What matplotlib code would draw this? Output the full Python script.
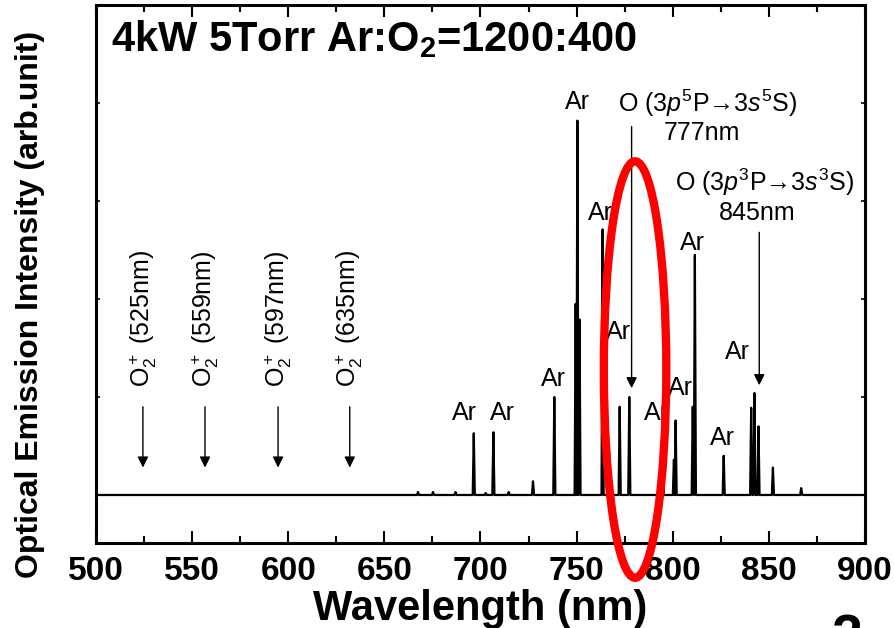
import numpy as np
import matplotlib.pyplot as plt
from matplotlib.patches import Ellipse

plt.rcParams['font.family'] = ['Liberation Sans', 'DejaVu Sans']
plt.rcParams['mathtext.fontset'] = 'custom'
plt.rcParams['mathtext.rm'] = 'Liberation Sans'
plt.rcParams['mathtext.it'] = 'Liberation Sans:italic'
plt.rcParams['mathtext.bf'] = 'Liberation Sans:bold'

# emission lines (wavelength nm, intensity arb. units)
peak_nm = [667.5, 675.3, 687.0, 696.5, 702.7, 706.7, 714.7, 727.3, 738.4,
           749.5, 750.4, 751.5, 763.5, 772.4, 777.4, 794.8, 800.6, 801.5,
           810.4, 811.5, 826.5, 840.8, 842.5, 844.6, 852.1, 866.8]
peak_height = [0.03, 0.03, 0.03, 0.63, 0.02, 0.64, 0.03, 0.14, 1.00,
               1.95, 3.82, 1.79, 2.71, 0.90, 1.00, 0.55, 0.36, 0.76,
               0.90, 2.45, 0.40, 0.89, 1.04, 0.70, 0.28, 0.07]

# "Ar" labels (x nm, y arb.)
ar_x = [691.9, 711.2, 738.2, 750.2, 762.2, 771.5, 791.3, 803.8, 810.5, 833.9, 826.1]
ar_y = [0.84, 0.84, 1.18, 4.01, 2.88, 1.66, 0.84, 1.09, 2.57, 1.46, 0.58]

# O2+ band positions (arrow x) and their labels
o2_x = [524.4, 556.7, 594.7, 632.0]
o2_labels = ['525nm', '559nm', '597nm', '635nm']

# build the spectrum polyline from the line list
half_w = 0.55
wl = [500.0]
inten = [0.0]
for c, h in zip(peak_nm, peak_height):
    wl += [c - half_w, c, c + half_w]
    inten += [0.0, h, 0.0]
wl.append(900.0)
inten.append(0.0)

fig = plt.figure(figsize=(8.95, 6.28), dpi=100)
ax = fig.add_axes([96/895, 1 - 543/628, (865 - 96)/895, (543 - 5)/628])

ax.plot(wl, inten, color='black', lw=1.6, zorder=3)

ax.set_xlim(500, 900)
ax.set_ylim(-0.49, 5.0)
ax.set_xticks(np.arange(500, 901, 50))
ax.set_xticks(np.arange(525, 900, 50), minor=True)
ax.set_yticks(np.arange(0, 6, 1))
ax.set_yticklabels([])
ax.tick_params(axis='x', which='major', direction='in', length=8.5, width=1.5,
               labelsize=24, pad=9, top=True)
ax.tick_params(axis='x', which='minor', direction='in', length=5, width=1.5, top=True)
ax.tick_params(axis='y', which='major', direction='in', length=3, width=1.2, right=True)
for lab in ax.get_xticklabels():
    lab.set_fontweight('bold')
for sp in ax.spines.values():
    sp.set_linewidth(2.2)

ax.set_xlabel('Wavelength (nm)', fontsize=30, fontweight='bold', labelpad=2)
fig.text(30/895, 1 - 304/628, 'Optical Emission Intensity (arb.unit)', rotation=90,
         fontsize=23, fontweight='bold', ha='center', va='center')

ax.text(0.020, 0.915, r'4kW 5Torr Ar:O$_\mathbf{2}$=1200:400', transform=ax.transAxes,
        fontsize=30, fontweight='bold', ha='left', va='baseline')

arrow_kw = dict(arrowstyle='-|>', lw=1, color='black', mutation_scale=16,
                shrinkA=0, shrinkB=0)

for x, y in zip(ar_x, ar_y):
    ax.text(x, y, 'Ar', fontsize=18, ha='center', va='center', zorder=4)

for x, lab in zip(o2_x, o2_labels):
    ax.text(x, 1.10, r'O$_2^+$ (' + lab + ')', rotation=90, fontsize=18,
            ha='center', va='bottom')
    ax.annotate('', xy=(x, 0.28), xytext=(x, 0.90), arrowprops=arrow_kw)

ax.text(818.3, 4.0, 'O (3$\\mathit{p}^5$P\u21923$\\mathit{s}^5$S)', fontsize=18,
        ha='center', va='center')
ax.text(815.2, 3.69, '777nm', fontsize=18, ha='center', va='center')
ax.annotate('', xy=(778.6, 1.09), xytext=(778.6, 3.76), arrowprops=arrow_kw)

ax.text(848.0, 3.19, 'O (3$\\mathit{p}^3$P\u21923$\\mathit{s}^3$S)', fontsize=18,
        ha='center', va='center')
ax.text(843.8, 2.88, '845nm', fontsize=18, ha='center', va='center')
ax.annotate('', xy=(845.0, 1.12), xytext=(845.0, 2.68), arrowprops=arrow_kw)

ell = Ellipse((780.4, 1.28), width=32.5, height=4.25, fill=False,
              edgecolor='#ff0000', lw=6, zorder=10, clip_on=False)
ax.add_patch(ell)

# partial label of the next panel, cut by the lower edge as in the source
fig.text(847/895, -0.04, '2', fontsize=40, fontweight='bold', ha='center', va='baseline')

fig.savefig('out.png', dpi=100)
